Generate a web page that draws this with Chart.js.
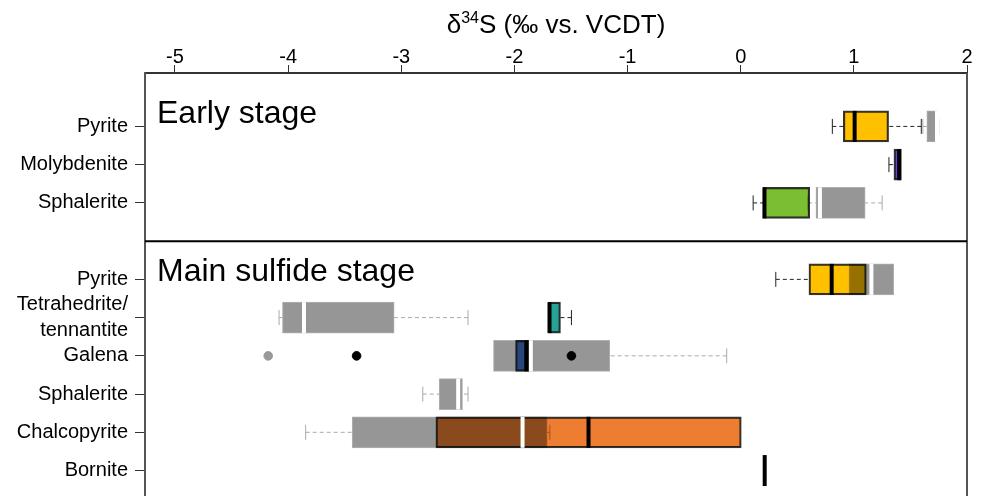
<!DOCTYPE html>
<html>
<head>
<meta charset="utf-8">
<script src="https://cdn.jsdelivr.net/npm/chart.js@4.4.1/dist/chart.umd.min.js"></script>
<style>
  html, body { margin: 0; padding: 0; background: #fff; overflow: hidden; }
  #wrap { width: 983px; height: 496px; overflow: hidden; }
</style>
</head>
<body>
<div id="wrap"><canvas id="chart" width="983" height="530"></canvas></div>
<script>
// rows, top to bottom (position 3 is the gap between the two stages)
var rowLabels = ['Pyrite', 'Molybdenite', 'Sphalerite', 'Pyrite', ['Tetrahedrite/', 'tennantite'], 'Galena', 'Sphalerite', 'Chalcopyrite', 'Bornite'];
var rowPos = [0, 1, 2, 4, 5, 6, 7, 8, 9];
var xTicks = [-5, -4, -3, -2, -1, 0, 1, 2];
var stageLabels = ['Early stage', 'Main sulfide stage'];
var stageBreak = 3;

// this study (coloured boxes)
var ownMin = [0.81, 1.31, 0.11, 0.31, -1.696, -1.99, null, -2.694, 0.212];
var ownQ1 = [0.907, 1.354, 0.197, 0.603, -1.696, -1.99, null, -2.694, 0.212];
var ownMed = [1.007, 1.40, 0.21, 0.804, -1.69, -1.895, null, -1.345, 0.212];
var ownQ3 = [1.307, 1.42, 0.61, 1.11, -1.593, -1.873, null, 0.005, 0.212];
var ownMax = [1.596, 1.42, 0.61, 1.20, -1.496, -1.873, null, 0.005, 0.212];
var ownColors = ['#FFC000', '#6A3FD8', '#7CBE32', '#FFC000', '#26A296', '#4479D2', null, '#ED7D31', '#000000'];

// literature data (grey boxes)
var litMin = [1.61, null, 0.595, 0.957, -4.08, -2.185, -2.81, -3.845, null];
var litQ1 = [1.645, null, 0.665, 0.957, -4.05, -2.185, -2.665, -3.434, null];
var litMed = [1.735, null, 0.70, 1.155, -3.86, -1.855, -2.497, -1.928, null];
var litQ3 = [1.735, null, 1.10, 1.352, -3.063, -1.157, -2.459, -1.711, null];
var litMax = [1.75, null, 1.25, 1.352, -2.41, -0.124, -2.41, -1.687, null];

// outliers (row index into rowPos)
var outlierX = [-3.395, -1.496, -4.176];
var outlierRow = [5, 5, 5];
var outlierColors = ['#000000', '#000000', '#999999'];

Chart.defaults.font.family = "'Liberation Sans', Arial, Helvetica, sans-serif";
Chart.defaults.color = '#000';

function boxData(q1s, q3s) {
  var out = [];
  for (var i = 0; i < rowPos.length; i++) {
    if (q1s[i] == null) continue;
    out.push({ x: [q1s[i], q3s[i]], y: rowPos[i] });
  }
  return out;
}
function boxColors(q1s, colors) {
  var out = [];
  for (var i = 0; i < rowPos.length; i++) {
    if (q1s[i] != null) out.push(colors[i]);
  }
  return out;
}

function drawWhiskers(chart, mins, q1s, q3s, maxs, color) {
  var ctx = chart.ctx, xs = chart.scales.x, ys = chart.scales.y;
  ctx.save();
  ctx.strokeStyle = color;
  ctx.lineWidth = 1;
  for (var i = 0; i < rowPos.length; i++) {
    if (q1s[i] == null) continue;
    var y = ys.getPixelForValue(rowPos[i]);
    [[mins[i], q1s[i]], [maxs[i], q3s[i]]].forEach(function (p) {
      if (p[0] == null || p[0] === p[1]) return;
      var a = xs.getPixelForValue(p[0]), b = xs.getPixelForValue(p[1]);
      ctx.setLineDash([4, 3]);
      ctx.beginPath(); ctx.moveTo(a, y); ctx.lineTo(b, y); ctx.stroke();
      ctx.setLineDash([]);
      ctx.beginPath(); ctx.moveTo(a, y - 7.5); ctx.lineTo(a, y + 7.5); ctx.stroke();
    });
  }
  ctx.restore();
}

function drawMedians(chart, meds, color) {
  var ctx = chart.ctx, xs = chart.scales.x, ys = chart.scales.y;
  ctx.save();
  ctx.strokeStyle = color;
  ctx.lineWidth = 4;
  for (var i = 0; i < rowPos.length; i++) {
    if (meds[i] == null) continue;
    var y = ys.getPixelForValue(rowPos[i]);
    var x = xs.getPixelForValue(meds[i]);
    ctx.beginPath(); ctx.moveTo(x, y - 15.5); ctx.lineTo(x, y + 15.5); ctx.stroke();
  }
  ctx.restore();
}

var boxPlugin = {
  id: 'boxParts',
  beforeDatasetsDraw: function (chart) {
    drawWhiskers(chart, litMin, litQ1, litQ3, litMax, '#aaaaaa');
    drawWhiskers(chart, ownMin, ownQ1, ownQ3, ownMax, '#222222');
  },
  beforeDatasetDraw: function (chart, args) {
    var ds = chart.data.datasets[args.index];
    chart.ctx.save();
    if (ds.blend) chart.ctx.globalCompositeOperation = ds.blend;
  },
  afterDatasetDraw: function (chart) {
    chart.ctx.restore();
  },
  afterDatasetsDraw: function (chart) {
    drawMedians(chart, litMed, '#ffffff');
    drawMedians(chart, ownMed, '#000000');
  },
  afterDraw: function (chart) {
    var ctx = chart.ctx, a = chart.chartArea, ys = chart.scales.y;
    var yb = ys.getPixelForValue(stageBreak);
    ctx.save();
    // right frame and stage divider
    ctx.strokeStyle = '#555555';
    ctx.lineWidth = 2;
    ctx.beginPath(); ctx.moveTo(a.right, a.top); ctx.lineTo(a.right, a.bottom); ctx.stroke();
    ctx.strokeStyle = '#000000';
    ctx.beginPath(); ctx.moveTo(a.left, yb); ctx.lineTo(a.right, yb); ctx.stroke();
    // stage labels
    ctx.fillStyle = '#000';
    ctx.textAlign = 'left';
    ctx.textBaseline = 'alphabetic';
    ctx.font = "32px 'Liberation Sans', Arial, sans-serif";
    ctx.fillText(stageLabels[0], a.left + 12, a.top + 50);
    ctx.fillText(stageLabels[1], a.left + 12, yb + 40);
    // axis title with superscript
    var big = "26px 'Liberation Sans', Arial, sans-serif";
    var small = "16px 'Liberation Sans', Arial, sans-serif";
    var t1 = 'δ', t2 = '34', t3 = 'S (‰ vs. VCDT)';
    ctx.font = big; var w1 = ctx.measureText(t1).width, w3 = ctx.measureText(t3).width;
    ctx.font = small; var w2 = ctx.measureText(t2).width;
    var x0 = (a.left + a.right) / 2 - (w1 + w2 + w3) / 2;
    ctx.font = big; ctx.fillText(t1, x0, 33);
    ctx.font = small; ctx.fillText(t2, x0 + w1, 23);
    ctx.font = big; ctx.fillText(t3, x0 + w1 + w2, 33);
    ctx.restore();
  }
};

var chart = new Chart(document.getElementById('chart'), {
  type: 'bar',
  data: {
    datasets: [{
      type: 'scatter',
      label: 'Outliers',
      data: outlierX.map(function (v, i) { return { x: v, y: rowPos[outlierRow[i]] }; }),
      backgroundColor: outlierColors,
      borderColor: outlierColors,
      pointRadius: 4.3,
      order: 0
    }, {
      label: 'This study',
      indexAxis: 'y',
      data: boxData(ownQ1, ownQ3),
      backgroundColor: boxColors(ownQ1, ownColors),
      borderColor: 'rgba(30,30,30,0.9)',
      borderWidth: 1.5,
      borderSkipped: false,
      barThickness: 31,
      grouped: false,
      blend: 'multiply',
      order: 1
    }, {
      label: 'Literature',
      indexAxis: 'y',
      data: boxData(litQ1, litQ3),
      backgroundColor: '#969696',
      borderColor: '#b0b0b0',
      borderWidth: 1,
      borderSkipped: false,
      barThickness: 31,
      grouped: false,
      order: 2
    }]
  },
  options: {
    responsive: false,
    animation: false,
    devicePixelRatio: 1,
    layout: { padding: { left: 0, right: 16, top: 0, bottom: 0 } },
    plugins: { legend: { display: false }, tooltip: { enabled: false } },
    scales: {
      x: {
        type: 'linear',
        position: 'top',
        offset: false,
        min: -5.265,
        max: 2,
        afterBuildTicks: function (s) { s.ticks = xTicks.map(function (v) { return { value: v }; }); },
        afterFit: function (s) { s.height = 73; s.paddingLeft = 0; s.paddingRight = 0; },
        grid: { offset: false, drawOnChartArea: false, drawTicks: true, tickLength: 8, color: '#333333', lineWidth: 1 },
        border: { display: true, color: '#333333', width: 2 },
        ticks: { autoSkip: false, maxRotation: 0, padding: -4, color: '#000', font: { size: 20 } }
      },
      y: {
        type: 'linear',
        reverse: true,
        offset: false,
        min: -1.397,
        max: 10.416,
        afterBuildTicks: function (s) { s.ticks = rowPos.map(function (v) { return { value: v }; }); },
        afterFit: function (s) { s.width = 145; s.paddingTop = 0; s.paddingBottom = 0; },
        grid: { offset: false, drawOnChartArea: false, drawTicks: true, tickLength: 10, color: '#333333', lineWidth: 1 },
        border: { display: true, color: '#555555', width: 2 },
        ticks: {
          autoSkip: false,
          padding: 7,
          color: '#000',
          font: { size: 20, lineHeight: 1.3 },
          callback: function (value, index) { return rowLabels[index]; }
        }
      }
    }
  },
  plugins: [boxPlugin]
});
</script>
</body>
</html>
